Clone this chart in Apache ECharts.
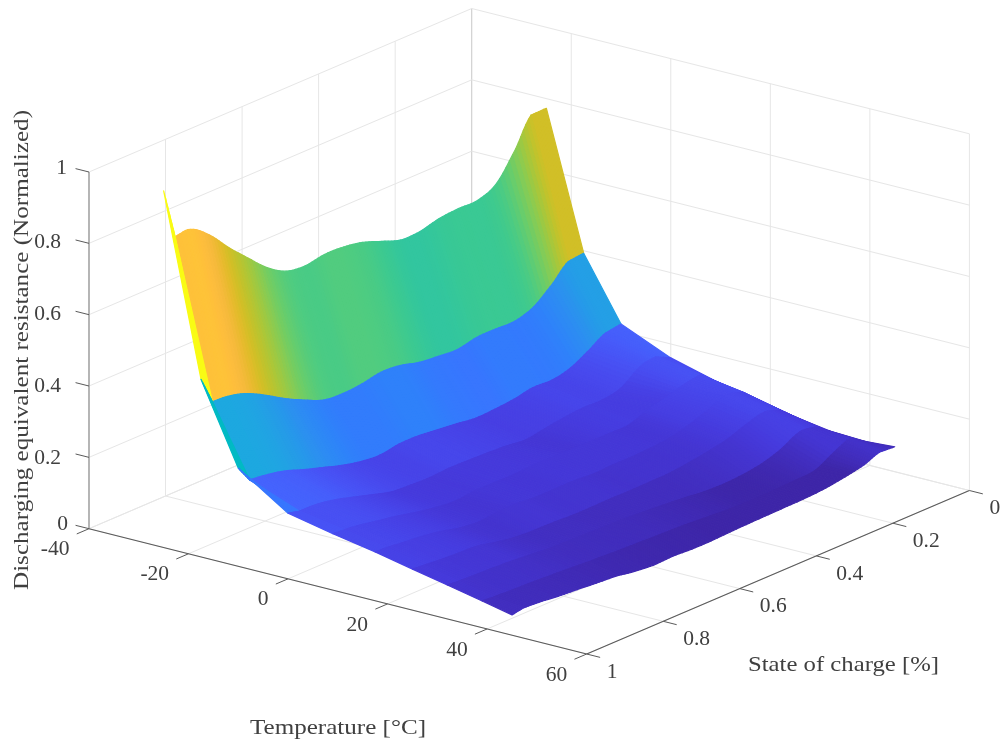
<!DOCTYPE html>
<html>
<head>
<meta charset="utf-8">
<style>html,body{margin:0;padding:0;background:#fff}#c{width:1003px;height:745px}</style>
<script src="https://cdn.jsdelivr.net/npm/echarts@6/dist/echarts.min.js"></script>
</head>
<body>
<div id="c"></div>
<script>
// ---------- data ----------
const temperatures = [-25, -17.5, -10, 0, 9, 17.5, 25, 32, 39, 45];
const socValues = [1, .97, .93, .88, .83, .78, .73, .68, .63, .58, .53, .48, .43, .38, .33, .28, .23, .18, .13, .08, .04, 0];
const rM25 = [1, .858, .860, .821, .763, .711, .661, .628, .620, .629, .627, .617, .597, .578, .579, .592, .597, .597, .622, .696, .772, .773];
const rM17 = [.498, .421, .418, .403, .375, .343, .316, .293, .288, .292, .302, .298, .284, .278, .274, .285, .286, .285, .303, .346, .388, .393];
const rM10 = [.275, .228, .223, .212, .193, .176, .159, .147, .142, .150, .150, .144, .138, .131, .133, .138, .148, .146, .159, .188, .214, .221];
const rP00 = [.184, .176, .175, .166, .151, .135, .120, .116, .114, .117, .116, .114, .111, .105, .113, .121, .126, .125, .136, .173, .182, .161];
const rP09 = [.158, .155, .150, .140, .130, .118, .108, .103, .108, .108, .107, .110, .109, .108, .108, .108, .108, .126, .140, .156, .163, .128];
const rP17 = [.137, .135, .130, .125, .116, .103, .097, .101, .103, .098, .098, .098, .094, .096, .096, .098, .103, .117, .136, .155, .145, .105];
const rP25 = [.115, .112, .108, .105, .102, .090, .081, .078, .077, .074, .074, .075, .074, .075, .076, .082, .090, .101, .120, .134, .121, .083];
const rP32 = [.095, .092, .090, .088, .085, .080, .075, .073, .072, .070, .068, .064, .060, .055, .049, .047, .050, .058, .075, .102, .098, .068];
const rP39 = [.075, .072, .070, .068, .065, .062, .058, .055, .052, .050, .048, .046, .042, .038, .035, .034, .036, .038, .042, .070, .090, .064];
const rP45 = [.057, .063, .060, .054, .050, .045, .041, .032, .027, .029, .026, .026, .028, .030, .031, .032, .033, .037, .045, .056, .073, .070];
const resistance = [rM25, rM17, rM10, rP00, rP09, rP17, rP25, rP32, rP39, rP45];

const tempTicks = [-40, -20, 0, 20, 40, 60];
const socTicks = [0, 0.2, 0.4, 0.6, 0.8, 1];
const zTicks = [0, 0.2, 0.4, 0.6, 0.8, 1];
const tempTickLabels = ['-40', '-20', '0', '20', '40', '60'];
const socTickLabels = ['0', '0.2', '0.4', '0.6', '0.8', '1'];
const zTickLabels = ['0', '0.2', '0.4', '0.6', '0.8', '1'];
const zLabelDx = [-21, -28, -28, -28, -28, -22];
const zLabelDy = [-4, 1, 0.5, 0, -0.5, -4];
const xLabel = 'Temperature [\u00B0C]';
const yLabel = 'State of charge [%]';
const zLabel = 'Discharging equivalent resistance (Normalized)';

const PARULA = [[.2422,.1504,.6603],[.2504,.1650,.7076],[.2578,.1818,.7511],[.2647,.1978,.7952],[.2706,.2147,.8364],[.2751,.2342,.8710],[.2783,.2559,.8991],[.2803,.2782,.9221],[.2813,.3006,.9414],[.2810,.3228,.9579],[.2795,.3447,.9717],[.2760,.3667,.9829],[.2699,.3892,.9906],[.2602,.4123,.9952],[.2440,.4358,.9988],[.2206,.4603,.9973],[.1963,.4847,.9892],[.1834,.5074,.9798],[.1786,.5289,.9682],[.1764,.5499,.9520],[.1687,.5703,.9359],[.1540,.5902,.9218],[.1460,.6091,.9079],[.1380,.6276,.8973],[.1248,.6459,.8883],[.1113,.6635,.8763],[.0952,.6798,.8598],[.0689,.6948,.8394],[.0297,.7082,.8163],[.0036,.7203,.7917],[.0067,.7312,.7660],[.0433,.7411,.7394],[.0964,.7500,.7120],[.1408,.7584,.6842],[.1717,.7670,.6554],[.1938,.7758,.6251],[.2161,.7843,.5923],[.2470,.7918,.5567],[.2906,.7973,.5188],[.3406,.8008,.4789],[.3909,.8029,.4354],[.4456,.8024,.3909],[.5044,.7993,.3480],[.5616,.7942,.3045],[.6174,.7876,.2612],[.6720,.7793,.2227],[.7242,.7698,.1910],[.7738,.7598,.1646],[.8203,.7498,.1535],[.8634,.7406,.1596],[.9035,.7330,.1774],[.9393,.7288,.2100],[.9728,.7298,.2394],[.9956,.7434,.2371],[.9970,.7659,.2199],[.9952,.7861,.2028],[.9892,.8073,.1831],[.9786,.8292,.1625],[.9676,.8518,.1421],[.9610,.8890,.1537],[.9597,.9135,.1423],[.9628,.9373,.1265],[.9691,.9606,.1064],[.9769,.9839,.0805]];
const zMin = 0.045, zMax = 1;

function parula(z) {
  const t = Math.max(0, Math.min(1, (z - zMin) / (zMax - zMin))) * (PARULA.length - 1);
  const i = Math.min(PARULA.length - 2, Math.floor(t)), f = t - i;
  const c = [0, 1, 2].map(k => Math.round(255 * (PARULA[i][k] * (1 - f) + PARULA[i + 1][k] * f)));
  return 'rgb(' + c.join(',') + ')';
}

// Orthographic view of the 3D box (view plane coordinates)
function view(T, s, z) {
  const u = 1 - s, k = T + 40;
  return [89 + k * 4.977 + u * 382.7, 528.7 + k * 1.253 - u * 163.5 - z * 356.7];
}

const SERIF = '"Liberation Serif","Times New Roman",serif';
const TEXT = '#404040';
const GRID = '#e6e6e6';
const measure = document.createElement('canvas').getContext('2d');
function fitScale(text, font, width) { measure.font = font; return width / measure.measureText(text).width; }

// ---------- surface: far strips first ----------
const SUB = 6;
const surfaceCells = [];
for (let i = 0; i < temperatures.length - 1; i++)
  for (let r = socValues.length - 2; r >= 0; r--) surfaceCells.push([i, r]);

// smooth drawing between the rows that were read (Catmull-Rom), straight at the two end rows
function smoothAt(col, r, f) {
  const n = col.length;
  if (r === 0 || r === n - 2) return col[r] + (col[r + 1] - col[r]) * f;
  const p0 = col[r === 1 ? 1 : r - 1], p1 = col[r], p2 = col[r + 1], p3 = col[r + 2 > n - 2 ? n - 2 : r + 2];
  return 0.5 * (2 * p1 + (p2 - p0) * f + (2 * p0 - 5 * p1 + 4 * p2 - p3) * f * f + (3 * p1 - p0 - 3 * p2 + p3) * f * f * f);
}

function renderSurface(params, api) {
  const i = api.value(0), r = api.value(1), kids = [];
  const T0 = temperatures[i], T1 = temperatures[i + 1];
  const A = resistance[i], B = resistance[i + 1];
  const sAt = f => socValues[r] + (socValues[r + 1] - socValues[r]) * f;
  const pt = (T, col, f) => api.coord(view(T, sAt(f), smoothAt(col, r, f)));
  for (let k = SUB - 1; k >= 0; k--) {
    const f0 = k / SUB, f1 = (k + 1) / SUB;
    const col = parula(r === 0 ? A[0] : smoothAt(A, r, f0));
    kids.push({
      type: 'polygon',
      shape: { points: [pt(T0, A, f0), pt(T1, B, f0), pt(T1, B, f1), pt(T0, A, f1)] },
      style: { fill: col, stroke: col, lineWidth: 1.2, lineJoin: 'round' },
      silent: true
    });
  }
  return { type: 'group', children: kids };
}

// ---------- box, grid, ticks ----------
const gridSegments = [];
const seg = (a, b, color, w) => gridSegments.push([a, b, color, w]);
tempTicks.forEach(T => {
  seg([T, 1, 0], [T, 0, 0], GRID, 1);
  seg([T, 0, 0], [T, 0, 1], GRID, 1);
});
socTicks.forEach(s => {
  seg([-40, s, 0], [60, s, 0], GRID, 1);
  seg([-40, s, 0], [-40, s, 1], s === 0 ? '#cfcfcf' : GRID, 1);
});
zTicks.forEach(z => {
  seg([-40, 1, z], [-40, 0, z], GRID, 1);
  seg([-40, 0, z], [60, 0, z], GRID, 1);
});
const axisSegments = [
  [[-40, 1, 0], [-40, 1, 1], '#a6a6a6', 1.6],
  [[-40, 1, 0], [60, 1, 0], '#5a5a5a', 1.1],
  [[60, 1, 0], [60, 0, 0], '#5a5a5a', 1.1]
];
function lineEl(api, a, b, color, w) {
  const p = api.coord(view(a[0], a[1], a[2])), q = api.coord(view(b[0], b[1], b[2]));
  return { type: 'line', shape: { x1: p[0], y1: p[1], x2: q[0], y2: q[1] }, style: { stroke: color, lineWidth: w }, silent: true };
}
function renderGrid(params, api) {
  const d = gridSegments[api.value(0)];
  return lineEl(api, d[0], d[1], d[2], d[3]);
}
function renderAxes(params, api) {
  const kids = axisSegments.map(d => lineEl(api, d[0], d[1], d[2], d[3]));
  tempTicks.forEach(T => kids.push(lineEl(api, [T, 1, 0], [T, 1.032, 0], '#5a5a5a', 1)));
  socTicks.forEach(s => kids.push(lineEl(api, [60, s, 0], [62.7, s, 0], '#5a5a5a', 1)));
  zTicks.forEach(z => kids.push(lineEl(api, [-40, 1, z], [-42.7, 1, z], '#5a5a5a', 1)));

  const font = '21.5px ' + SERIF;
  const label = (text, pos, dx, dy, align) => {
    const c = api.coord(pos);
    kids.push({ type: 'text', x: c[0] + dx, y: c[1] + dy, silent: true,
      style: { text, font, fill: TEXT, textAlign: align, textVerticalAlign: 'middle' } });
  };
  tempTicks.forEach((T, i) => label(tempTickLabels[i], view(T, 1, 0), -19.5, 21, 'right'));
  socTicks.forEach((s, i) => label(socTickLabels[i], view(60, s, 0), 20, 18, 'left'));
  zTicks.forEach((z, i) => label(zTickLabels[i], view(-40, 1, z), zLabelDx[i], zLabelDy[i], 'right'));

  const lab = (text, x, y, len, rot) => {
    const c = api.coord([x, y]), sc = fitScale(text, font, len);
    kids.push({ type: 'text', x: c[0], y: c[1], rotation: rot, scaleX: sc, silent: true,
      style: { text, font, fill: TEXT, textAlign: 'center', textVerticalAlign: 'middle' } });
  };
  lab(xLabel, 338, 728, 176, 0);
  lab(yLabel, 843.5, 665, 191, 0);
  lab(zLabel, 22, 350, 480, Math.PI / 2);
  return { type: 'group', children: kids };
}

const chart = echarts.init(document.getElementById('c'), null, { renderer: 'canvas' });
chart.setOption({
  animation: false,
  backgroundColor: '#fff',
  grid: { left: 0, right: 0, top: 0, bottom: 0 },
  xAxis: { type: 'value', min: 0, max: 1003, show: false },
  yAxis: { type: 'value', min: 0, max: 745, inverse: true, show: false },
  tooltip: { show: false },
  series: [
    { type: 'custom', coordinateSystem: 'cartesian2d', clip: false, silent: true, z: 1,
      data: gridSegments.map((d, i) => [i]), encode: { x: 0, y: 0 }, renderItem: renderGrid },
    { type: 'custom', coordinateSystem: 'cartesian2d', clip: false, silent: true, z: 2,
      data: [[0]], encode: { x: 0, y: 0 }, renderItem: renderAxes },
    { type: 'custom', coordinateSystem: 'cartesian2d', clip: false, silent: true, z: 3,
      data: surfaceCells, encode: { x: 0, y: 1 }, renderItem: renderSurface, progressive: 0 }
  ]
});
</script>
</body>
</html>
